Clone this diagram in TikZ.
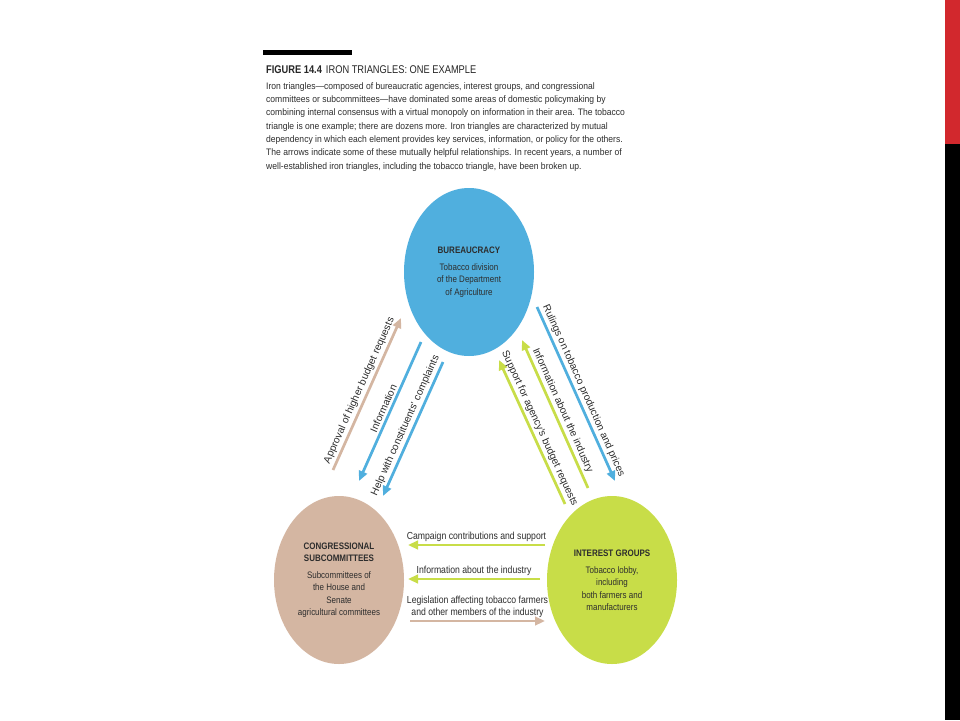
\documentclass[tikz,border=0pt]{standalone}
\usepackage{fontspec}
\setmainfont{Liberation Sans}
\newfontfamily\cond[FakeStretch=0.85, Ligatures=TeX]{Liberation Sans}
\newfontfamily\capfont[FakeStretch=0.91, Ligatures=TeX]{Liberation Sans}
\newfontfamily\titfont[FakeStretch=0.83, Ligatures=TeX]{Liberation Sans}
\usetikzlibrary{shapes.geometric,arrows.meta}
\definecolor{bblue}{RGB}{80,175,222}
\definecolor{btan}{RGB}{212,182,162}
\definecolor{bgreen}{RGB}{200,221,72}
\definecolor{txt}{RGB}{45,45,45}
\definecolor{sred}{RGB}{210,40,45}
\tikzset{
  blob/.style={ellipse, minimum width=130, minimum height=168, inner sep=0pt, align=center, text=txt, font=\cond\fontsize{9.4}{12.3}\selectfont},
  arrend/.style={line width=2.7pt, -{Triangle[width=8.5pt,length=10pt]}},
  arrstart/.style={line width=2.7pt, {Triangle[width=8.5pt,length=10pt]}-},
  lab/.style={font=\fontsize{10.2}{11}\selectfont, text=txt, sloped, above, inner sep=2.2pt},
  blab/.style={font=\cond\fontsize{10.2}{12}\selectfont, text=txt, above, align=center, inner sep=2.5pt}
}
\begin{document}
\begin{tikzpicture}[x=1pt,y=-1pt]
\useasboundingbox (0,0) rectangle (960,720);
\fill[white] (0,0) rectangle (960,720);
% side strip
\fill[sred] (945,0) rectangle (960,144);
\fill[black] (945,144) rectangle (960,720);
% header
\fill[black] (263,50) rectangle (352,55);
\node[anchor=base west, inner sep=0pt, text=black!85, font=\titfont\fontsize{11.2}{13}\selectfont] (title) at (266,73)
  {\textbf{FIGURE 14.4}\hspace{4pt}IRON TRIANGLES: ONE EXAMPLE};
\node[anchor=north west, inner sep=0pt, align=left, text=txt, font=\capfont\fontsize{9.4}{13.35}\selectfont] (caption) at (266,82)
  {Iron triangles---composed of bureaucratic agencies, interest groups, and congressional\\
   committees or subcommittees---have dominated some areas of domestic policymaking by\\
   combining internal consensus with a virtual monopoly on information in their area. The tobacco\\
   triangle is one example; there are dozens more. Iron triangles are characterized by mutual\\
   dependency in which each element provides key services, information, or policy for the others.\\
   The arrows indicate some of these mutually helpful relationships. In recent years, a number of\\
   well-established iron triangles, including the tobacco triangle, have been broken up.};
% circles
\node[blob, fill=bblue] (bur) at (469,272)
  {\textbf{BUREAUCRACY}\\[5pt]Tobacco division\\of the Department\\of Agriculture};
\node[blob, fill=btan] (con) at (339,580)
  {\textbf{CONGRESSIONAL}\\\textbf{SUBCOMMITTEES}\\[5pt]Subcommittees of\\the House and\\Senate\\agricultural committees};
\node[blob, fill=bgreen] (int) at (612,580)
  {\textbf{INTEREST GROUPS}\\[5pt]Tobacco lobby,\\including\\both farmers and\\manufacturers};
% left arrows
\coordinate (l1a) at (333,470); \coordinate (l1b) at (401,318);
\coordinate (l2a) at (359,481); \coordinate (l2b) at (421,342);
\coordinate (l3a) at (383,496); \coordinate (l3b) at (443,362);
\draw[arrend, btan] (l1a) -- node[lab]{Approval of higher budget requests} (l1b);
\draw[arrstart, bblue] (l2a) -- node[lab]{Information} (l2b);
\draw[arrstart, bblue] (l3a) -- node[lab]{Help with constituents' complaints} (l3b);
% right arrows
\coordinate (r1a) at (537,307); \coordinate (r1b) at (615,481);
\coordinate (r2a) at (522,340); \coordinate (r2b) at (588,488);
\coordinate (r3a) at (499,360); \coordinate (r3b) at (565,504);
\draw[arrend, bblue] (r1a) -- node[lab]{Rulings on tobacco production and prices} (r1b);
\draw[arrstart, bgreen] (r2a) -- node[lab]{Information about the industry} (r2b);
\draw[arrstart, bgreen] (r3a) -- node[lab]{Support for agency's budget requests} (r3b);
% bottom arrows
\coordinate (b1a) at (545,545); \coordinate (b1b) at (408,545);
\coordinate (b2a) at (540,579); \coordinate (b2b) at (408,579);
\coordinate (b3a) at (410,621); \coordinate (b3b) at (545,621);
\draw[arrend, bgreen] (b1a) -- node[blab]{Campaign contributions and support} (b1b);
\draw[arrend, bgreen] (b2a) -- node[blab]{Information about the industry} (b2b);
\draw[arrend, btan] (b3a) -- node[blab]{Legislation affecting tobacco farmers\\and other members of the industry} (b3b);
\end{tikzpicture}
\end{document}
